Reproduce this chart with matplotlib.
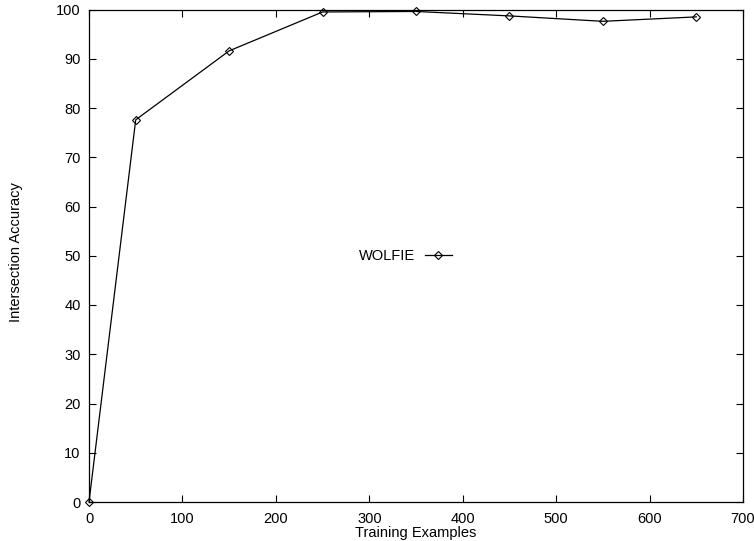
import matplotlib
matplotlib.use("Agg")
import matplotlib.pyplot as plt

train_examples = [0, 50, 150, 250, 350, 450, 550, 650]
accuracy = [0.0, 77.6, 91.6, 99.5, 99.6, 98.7, 97.6, 98.5]
x_ticks = [0, 100, 200, 300, 400, 500, 600, 700]
y_ticks = [0, 10, 20, 30, 40, 50, 60, 70, 80, 90, 100]

plt.rcParams['font.family'] = ['Liberation Sans', 'DejaVu Sans']
plt.rcParams['font.size'] = 10.5

fig = plt.figure(figsize=(7.54, 5.41), dpi=100)
ax = fig.add_axes([89/754, 1-502/541, (743-89)/754, (502-9.5)/541])

ax.plot(train_examples, accuracy, color='black', linewidth=0.9,
        marker='D', markersize=4, markerfacecolor='none',
        markeredgecolor='black', markeredgewidth=0.8, label='WOLFIE',
        clip_on=False)

ax.set_xlim(0, 700)
ax.set_ylim(0, 100)
ax.set_xticks(x_ticks)
ax.set_yticks(y_ticks)
ax.tick_params(direction='in', top=True, right=True, length=5, width=0.8)
ax.tick_params(axis='x', pad=7.5)
ax.tick_params(axis='y', pad=6)
for s in ax.spines.values():
    s.set_linewidth(0.9)

ax.set_xlabel('Training Examples', labelpad=0)
ax.set_ylabel('Intersection Accuracy')
ax.yaxis.set_label_coords(-0.101, 0.508)

ax.legend(loc='center right', bbox_to_anchor=(0.555, 0.5), frameon=False,
          markerfirst=False, handlelength=1.85, borderpad=0, borderaxespad=0,
          handletextpad=0.65)

fig.savefig('out.png', dpi=100)
